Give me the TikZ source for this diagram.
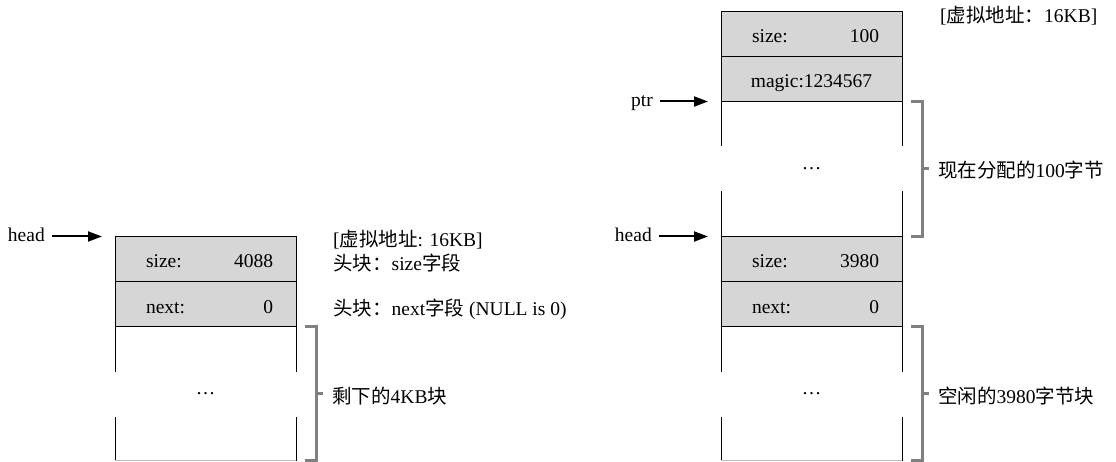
\documentclass[tikz,border=0pt]{standalone}
\usepackage{fontspec}
\setmainfont{Liberation Serif}
\newfontfamily\cjk{Noto Sans CJK SC}
\usetikzlibrary{arrows.meta,calc}
\definecolor{rowfill}{RGB}{214,214,214}
\definecolor{brk}{RGB}{128,128,128}
\definecolor{edgegray}{RGB}{190,190,190}
\begin{document}
\begin{tikzpicture}[x=1pt,y=-1pt,
  font=\fontsize{19.5}{23}\selectfont,
  row/.style={draw=black, line width=1pt, fill=rowfill, minimum width=181pt,
    minimum height=45pt, inner sep=0pt, outer sep=0pt, text height=18pt,
    text depth=0pt, anchor=north},
  blank/.style={minimum width=181pt, inner sep=0pt, outer sep=0pt,
    text height=1pt, text depth=0pt, anchor=north},
  ptrlabel/.style={inner sep=0pt, anchor=east, text height=13.5pt, text depth=4pt},
  note/.style={inner sep=0pt, anchor=west, text height=15pt, text depth=4pt},
  ptrarrow/.style={line width=2pt, -{Triangle[length=14pt,width=10pt]}, shorten <=7pt},
  bracket/.style={draw=brk, line width=3pt},
  side/.style={line width=1pt},
  bottomedge/.style={draw=edgegray, line width=1pt},
]
\useasboundingbox (0,0) rectangle (1116,462);

% ---------------- left block ----------------
\node[row] (Ls) at (205.5,236.5) {\hbox to 135pt{\hskip 8pt size:\hfill 4088}};
\node[row] (Ln) at (Ls.south) {\hbox to 135pt{\hskip 8pt next:\hfill 0}};
\node[blank, minimum height=134pt] (Lb) at (Ln.south) {…};
\draw[side] (Lb.north west) -- ++(0,45) (Lb.south west) -- ++(0,-44);
\draw[side] (Lb.north east) -- ++(0,45) (Lb.south east) -- ++(0,-44);
\draw[bottomedge] (Lb.south west) -- (Lb.south east);

\coordinate (LheadTip) at ($(Ls.north west)+(-13,0)$);
\node[ptrlabel] (Lhead) at ($(Ls.north west)+(-70,0)$) {head};
\draw[ptrarrow] (Lhead) -- (LheadTip);

\node[note] (Laddr) at ($(Ls.north east)+(37,5)$) {[{\cjk 虚拟地址}: 16KB]};
\node[note] (Lsizenote) at ($(Ls.east)+(37,6)$) {{\cjk 头块：}size{\cjk 字段}};
\node[note] (Lnextnote) at ($(Ln.east)+(37,6)$) {{\cjk 头块：}next{\cjk 字段} (NULL is 0)};

\draw[bracket] ($(Ln.south east)+(9,0)$) -- ++(11,0) |- ($(Lb.south east)+(9,0)$);
\coordinate (Ltick) at ($(Lb.east)+(20,0)$);
\node[note] (Llab) at ($(Lb.east)+(36,4)$) {{\cjk 剩下的}4KB{\cjk 块}};
\draw[bracket] (Ltick) -- ($(Ltick)+(7,0)$);

% ---------------- right block ----------------
\node[row] (Rs) at (811.5,11.5) {\hbox to 135pt{\hskip 8pt size:\hfill 100}};
\node[row] (Rm) at (Rs.south) {magic:1234567};
\node[blank, minimum height=135pt] (Rb1) at (Rm.south) {…};
\node[row] (Rs2) at (Rb1.south) {\hbox to 135pt{\hskip 8pt size:\hfill 3980}};
\node[row] (Rn) at (Rs2.south) {\hbox to 135pt{\hskip 8pt next:\hfill 0}};
\node[blank, minimum height=134pt] (Rb2) at (Rn.south) {…};

\draw[side] (Rb1.north west) -- ++(0,45) (Rb1.south west) -- ++(0,-45);
\draw[side] (Rb1.north east) -- ++(0,45) (Rb1.south east) -- ++(0,-45);
\draw[side] (Rb2.north west) -- ++(0,45) (Rb2.south west) -- ++(0,-44);
\draw[side] (Rb2.north east) -- ++(0,45) (Rb2.south east) -- ++(0,-44);
\draw[bottomedge] (Rb2.south west) -- (Rb2.south east);

\coordinate (RptrTip) at ($(Rm.south west)+(-13,0)$);
\node[ptrlabel] (Rptr) at ($(Rm.south west)+(-68,0)$) {ptr};
\draw[ptrarrow] (Rptr) -- (RptrTip);

\coordinate (RheadTip) at ($(Rs2.north west)+(-13,0)$);
\node[ptrlabel] (Rhead) at ($(Rs2.north west)+(-69,0)$) {head};
\draw[ptrarrow] (Rhead) -- (RheadTip);

\node[note] (Raddr) at ($(Rs.north east)+(38,5.5)$) {[{\cjk 虚拟地址：}16KB]};

\draw[bracket] ($(Rm.south east)+(9,0)$) -- ++(11,0) |- ($(Rb1.south east)+(9,0)$);
\coordinate (Rtick1) at ($(Rb1.east)+(20,0)$);
\node[note] (Rlab1) at ($(Rb1.east)+(36,3)$) {{\cjk 现在分配的}100{\cjk 字节}};
\draw[bracket] (Rtick1) -- ($(Rtick1)+(7,0)$);

\draw[bracket] ($(Rn.south east)+(9,0)$) -- ++(11,0) |- ($(Rb2.south east)+(9,0)$);
\coordinate (Rtick2) at ($(Rb2.east)+(20,0)$);
\node[note] (Rlab2) at ($(Rb2.east)+(36,4)$) {{\cjk 空闲的}3980{\cjk 字节块}};
\draw[bracket] (Rtick2) -- ($(Rtick2)+(7,0)$);
\end{tikzpicture}
\end{document}
